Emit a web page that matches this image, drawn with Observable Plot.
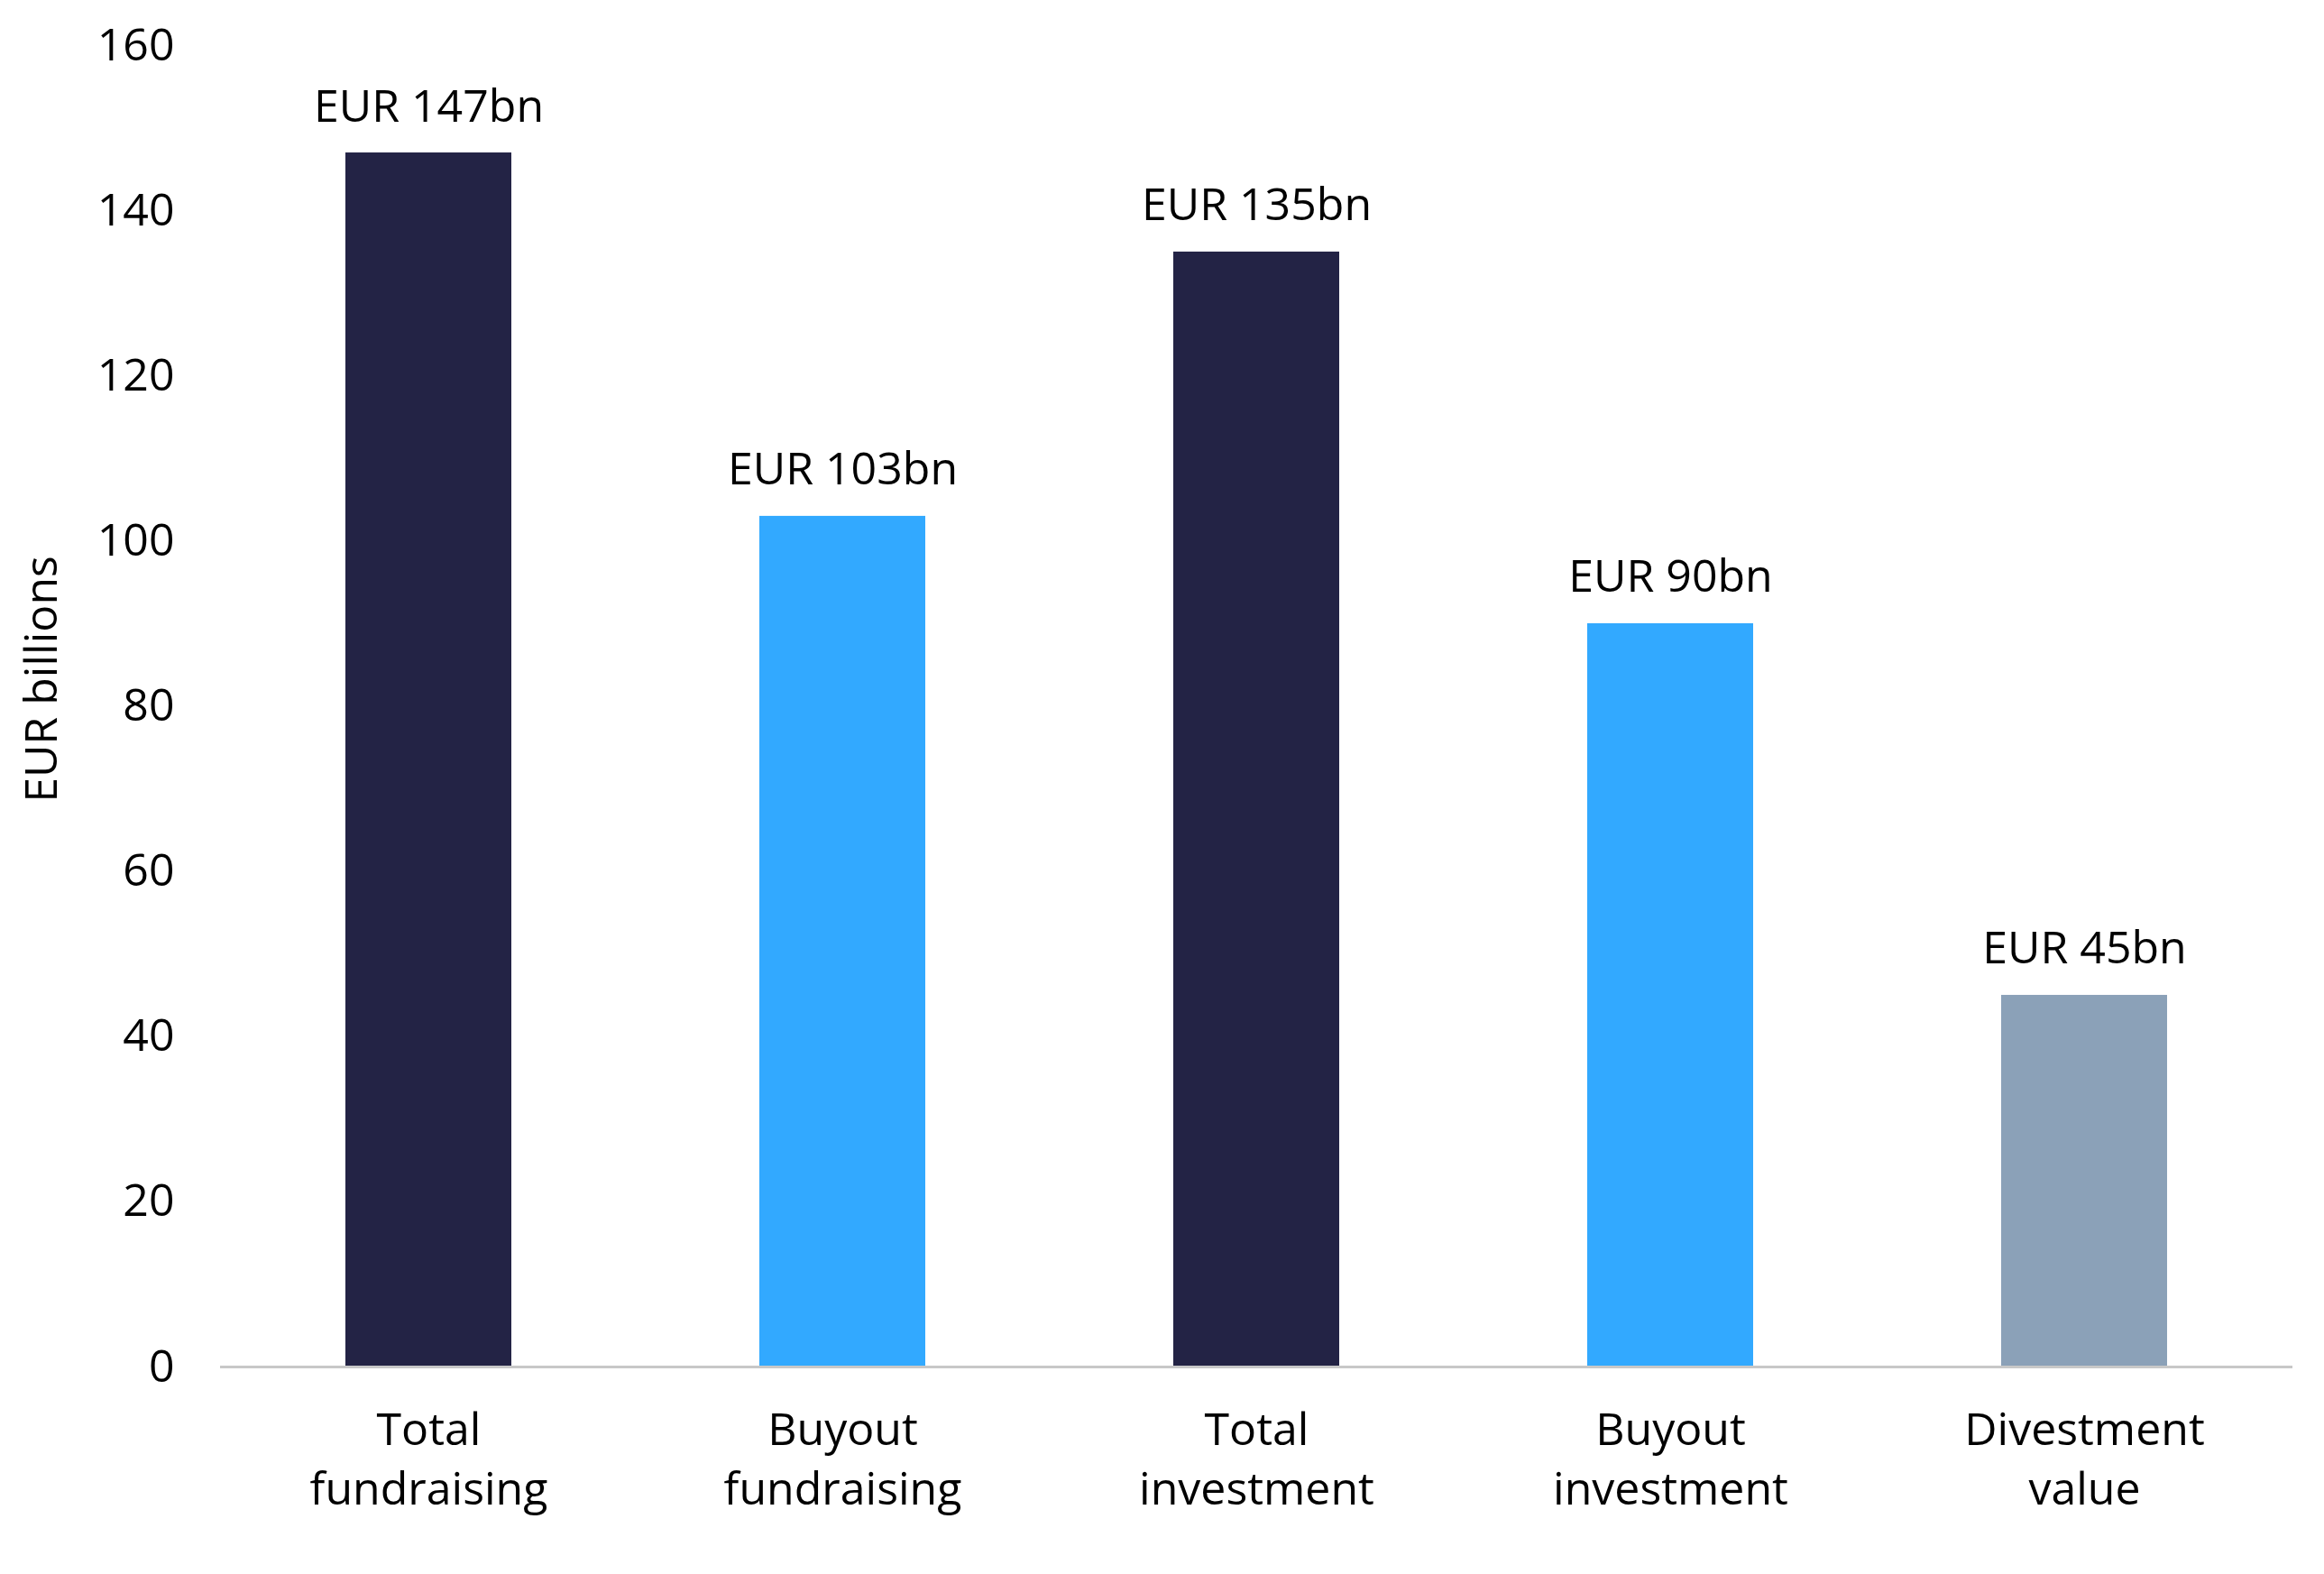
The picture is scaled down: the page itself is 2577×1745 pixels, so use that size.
<!DOCTYPE html>
<html>
<head>
<meta charset="utf-8">
<script src="https://cdn.jsdelivr.net/npm/d3@7"></script>
<script src="https://cdn.jsdelivr.net/npm/@observablehq/plot@0.6"></script>
<style>
  html, body { margin: 0; padding: 0; background: #fff; }
  #chart svg { display: block; }
</style>
</head>
<body>
<div id="chart"></div>
<script>
const categories = ["Total fundraising", "Buyout fundraising", "Total investment", "Buyout investment", "Divestment value"];
const values = [147, 103, 135, 90, 45];
const kinds = ["Total", "Buyout", "Total", "Buyout", "Divestment"];
const valueLabels = ["EUR 147bn", "EUR 103bn", "EUR 135bn", "EUR 90bn", "EUR 45bn"];
const yTicks = [0, 20, 40, 60, 80, 100, 120, 140, 160];

const data = categories.map((c, i) => ({category: c, value: values[i], kind: kinds[i], label: valueLabels[i]}));

const FONT = 50;
const chart = Plot.plot({
  width: 2577,
  height: 1745,
  marginLeft: 244,
  marginRight: 35,
  marginTop: 50,
  marginBottom: 230,
  style: {fontFamily: "'Open Sans', 'Noto Sans', sans-serif", fontSize: FONT + "px", color: "#000", background: "#fff"},
  x: {domain: categories, paddingInner: 0.6, paddingOuter: 0.3, label: null},
  y: {domain: [0, 160], label: null},
  color: {domain: ["Total", "Buyout", "Divestment"], range: ["#232345", "#32A9FF", "#8BA1B8"]},
  marks: [
    Plot.barY(data, {x: "category", y: "value", fill: "kind"}),
    Plot.text(data, {x: "category", y: "value", text: "label", lineAnchor: "bottom", dy: -35, fontSize: FONT, fill: "#000"}),
    Plot.axisY({ticks: yTicks, tickSize: 0, tickPadding: 51, fontSize: FONT, label: null}),
    Plot.ruleX([0], {frameAnchor: "left", stroke: "#c8c8c8", strokeWidth: 2}),
    Plot.ruleY([0], {stroke: "#c8c8c8", strokeWidth: 3}),
    Plot.axisX({tickSize: 0, tickPadding: 40, fontSize: FONT, lineHeight: 1.32, tickFormat: d => d.replace(" ", "\n"), label: null}),
    Plot.text(["EUR billions"], {frameAnchor: "left", textAnchor: "middle", dx: -198, dy: -30, rotate: -90, fontSize: FONT, fill: "#000"})
  ]
});
document.getElementById("chart").append(chart);
</script>
</body>
</html>
